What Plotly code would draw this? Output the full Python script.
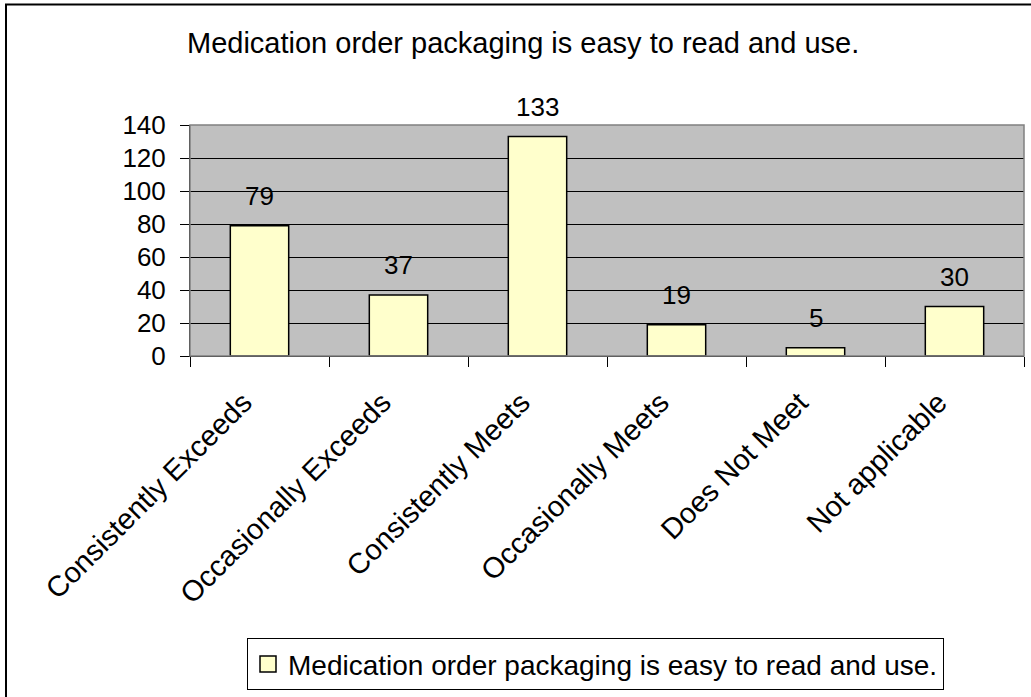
import plotly.graph_objects as go

categories = ["Consistently Exceeds", "Occasionally Exceeds", "Consistently Meets",
              "Occasionally Meets", "Does Not Meet", "Not applicable"]
counts = [79, 37, 133, 19, 5, 30]
series_name = "Medication order packaging is easy to read and use."
title_text = "Medication order packaging is easy to read and use."
y_ticks = [0, 20, 40, 60, 80, 100, 120, 140]

FONT = "Arial, Liberation Sans, sans-serif"
W, H = 1031, 697
L, R, T, B = 190, 7, 125, 338
PW, PH = W - L - R, H - T - B
BAR_FILL = "#FFFFCC"


def px(x):
    return (x - L) / PW


def py(y):
    return (H - B - y) / PH


fig = go.Figure()
fig.add_trace(go.Bar(
    x=categories, y=counts, name=series_name,
    marker=dict(color=BAR_FILL, line=dict(color="black", width=1.5)),
    width=0.42, showlegend=False,
))
# legend entry with a larger square key for the bar series
fig.add_trace(go.Scatter(
    x=[None], y=[None], mode="markers", name=series_name,
    marker=dict(symbol="square", size=17, color=BAR_FILL,
                line=dict(color="black", width=1.5)),
    showlegend=True,
))

# value labels above each bar
for c, v in zip(categories, counts):
    fig.add_annotation(x=c, y=v, xref="x", yref="y", text=str(v), showarrow=False,
                       yanchor="middle", yshift=30,
                       font=dict(family=FONT, size=26, color="black"))

fig.add_annotation(x=px(523), y=py(42), xref="paper", yref="paper", text=title_text,
                   showarrow=False, xanchor="center", yanchor="middle",
                   font=dict(family=FONT, size=29, color="black"))

# plot-area frame and outer chart border
fig.add_shape(type="rect", xref="paper", yref="paper", x0=0, x1=1, y0=0, y1=1,
              line=dict(color="#808080", width=1.5), layer="above")
fig.add_shape(type="rect", xref="paper", yref="paper",
              x0=px(6), x1=px(1040), y0=py(710), y1=py(3),
              line=dict(color="black", width=2), layer="above")

fig.update_layout(
    width=W, height=H,
    margin=dict(l=L, r=R, t=T, b=B),
    paper_bgcolor="white", plot_bgcolor="#C0C0C0",
    font=dict(family=FONT, size=26, color="black"),
    bargap=0.58,
    legend=dict(x=px(247), y=py(645), xanchor="left", yanchor="top",
                bordercolor="black", borderwidth=1, bgcolor="white",
                itemwidth=30, tracegroupgap=0,
                font=dict(family=FONT, size=28, color="black")),
)
fig.update_xaxes(
    type="category", tickangle=-45, tickson="boundaries",
    ticks="outside", ticklen=10, tickcolor="black", tickwidth=1,
    showline=True, linecolor="black", linewidth=1,
    showgrid=False, tickfont=dict(family=FONT, size=29),
    ticklabelstandoff=17, ticklabelshift=-16,
)
fig.update_yaxes(
    range=[0, 140], tickvals=y_ticks, ticks="outside", ticklen=9, tickcolor="black",
    showline=True, linecolor="black", linewidth=1,
    showgrid=True, gridcolor="black", gridwidth=1,
    zeroline=True, zerolinecolor="black", zerolinewidth=1,
    ticklabelstandoff=9, tickfont=dict(family=FONT, size=26),
)

fig.write_html("out.html")
